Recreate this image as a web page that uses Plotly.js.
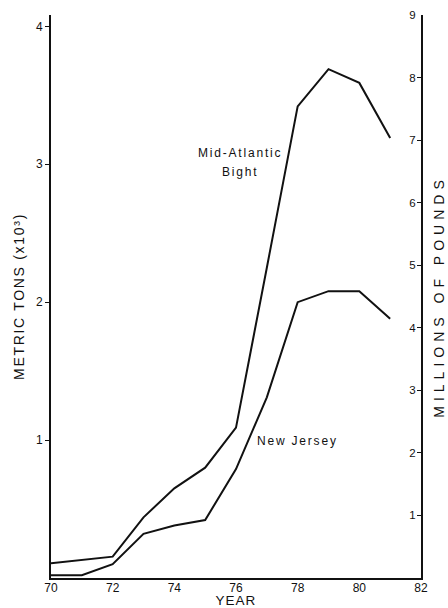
<!DOCTYPE html>
<html><head><meta charset="utf-8">
<script src="https://cdn.plot.ly/plotly-3.0.1.min.js"></script>
<style>
html,body{margin:0;padding:0;background:#fff}
.annotation-text{letter-spacing:1.8px}
.ytitle{letter-spacing:1.7px}
.y2title{letter-spacing:5px}
.xtitle{letter-spacing:1px}
</style>
</head><body><div id="chart" style="width:448px;height:608px"></div>
<script>
const years = [70, 71, 72, 73, 74, 75, 76, 77, 78, 79, 80, 81];
const midAtlantic = [0.107, 0.13, 0.155, 0.44, 0.65, 0.80, 1.09, 2.25, 3.42, 3.69, 3.59, 3.19];
const newJersey = [0.02, 0.02, 0.10, 0.32, 0.38, 0.42, 0.79, 1.31, 2.0, 2.08, 2.08, 1.88];
const xTicks = [70, 72, 74, 76, 78, 80, 82];
const leftTicks = [1, 2, 3, 4];
const rightTicks = [1, 2, 3, 4, 5, 6, 7, 8, 9];
const LB_PER_TON_K = 2.2046; // million pounds per thousand metric tons

const font = {family: 'Liberation Sans, Arial, sans-serif', color: '#111'};
const f = s => Object.assign({size: s}, font);
const traces = [
  {x: years, y: midAtlantic, mode: 'lines', line: {color: '#111', width: 2}, name: 'Mid-Atlantic Bight', hoverinfo: 'skip'},
  {x: years, y: newJersey, mode: 'lines', line: {color: '#111', width: 2}, name: 'New Jersey', hoverinfo: 'skip'},
  {x: [70], y: [0], yaxis: 'y2', mode: 'markers', marker: {opacity: 0}, hoverinfo: 'skip', showlegend: false}
];
const layout = {
  width: 448, height: 608,
  margin: {l: 51, r: 27, t: 15, b: 30},
  paper_bgcolor: '#fff', plot_bgcolor: '#fff',
  showlegend: false,
  font: f(12),
  xaxis: {
    range: [70, 82], tickvals: xTicks, ticktext: xTicks.map(String),
    showgrid: false, zeroline: false, showline: true, linecolor: '#111', linewidth: 2,
    ticks: '', tickfont: f(12), ticklabelstandoff: -2,
    title: {text: 'YEAR', font: f(13.5), standoff: 5}
  },
  yaxis: {
    range: [0, 9 / LB_PER_TON_K], tickvals: leftTicks, ticktext: leftTicks.map(String),
    showgrid: false, zeroline: false, showline: true, linecolor: '#111', linewidth: 2,
    ticks: 'outside', ticklen: 4, tickwidth: 1, tickcolor: '#111',
    tickfont: f(12),
    title: {text: 'METRIC TONS (x10³)', font: f(14), standoff: 8}
  },
  yaxis2: {
    overlaying: 'y', side: 'right', range: [0, 9],
    tickvals: rightTicks, ticktext: rightTicks.map(String),
    showgrid: false, zeroline: false, showline: true, linecolor: '#111', linewidth: 2,
    ticks: 'inside', ticklen: 4, tickwidth: 1, tickcolor: '#111',
    ticklabelposition: 'outside', ticklabelstandoff: -16,
    tickfont: f(11.5),
    title: {text: 'MILLIONS OF POUNDS', font: f(14), standoff: 19}
  },
  annotations: [
    {x: 76.13, y: 3.082, xref: 'x', yref: 'y', text: 'Mid-Atlantic', showarrow: false, font: f(12)},
    {x: 76.13, y: 2.944, xref: 'x', yref: 'y', text: 'Bight', showarrow: false, font: f(12)},
    {x: 78.01, y: 0.993, xref: 'x', yref: 'y', text: 'New Jersey', showarrow: false, font: f(12)}
  ]
};
Plotly.newPlot('chart', traces, layout, {displayModeBar: false, staticPlot: true});
</script></body></html>
